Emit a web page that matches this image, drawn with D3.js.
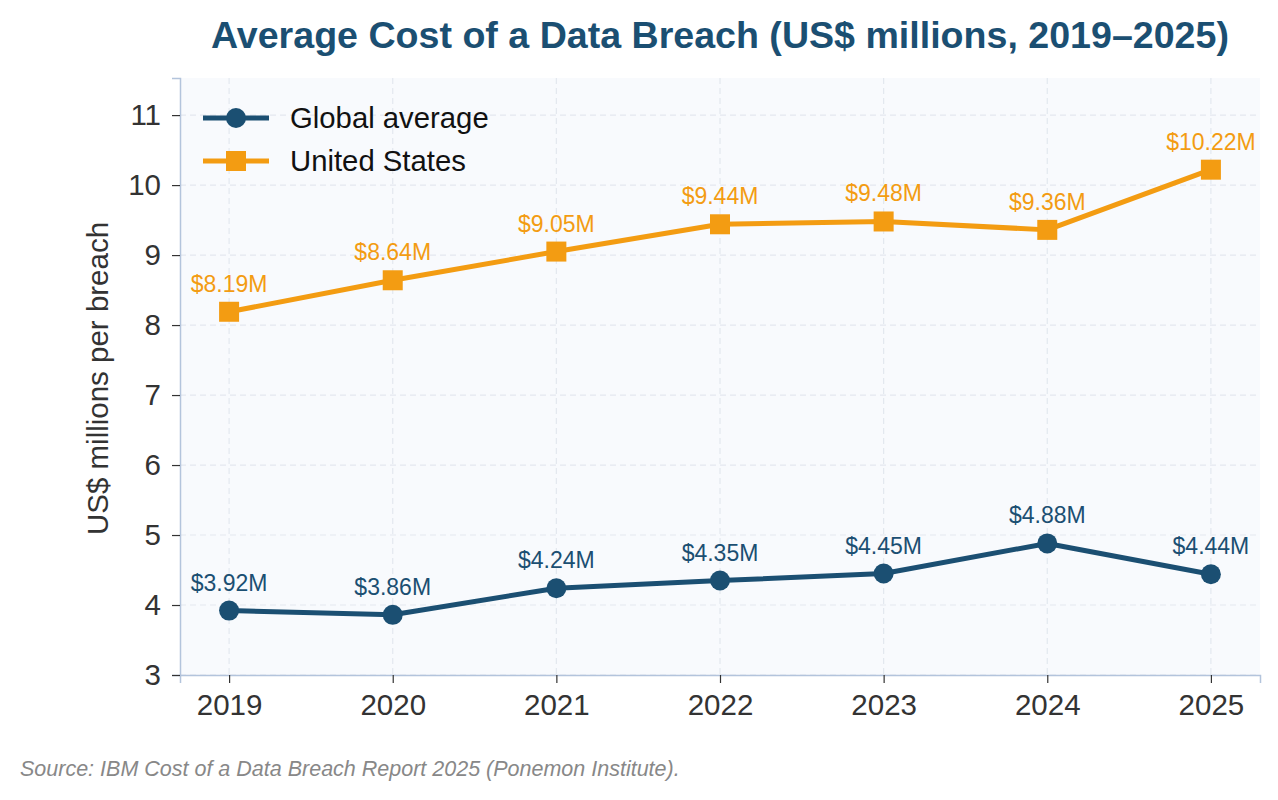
<!DOCTYPE html>
<html>
<head>
<meta charset="utf-8">
<script src="https://cdn.jsdelivr.net/npm/d3@7"></script>
<style>
  body { margin: 0; background: #fff; font-family: "Liberation Sans", Arial, sans-serif; }
</style>
</head>
<body>
<div id="chart"></div>
<script>
  const years = [2019, 2020, 2021, 2022, 2023, 2024, 2025];
  const globalAvg = [3.92, 3.86, 4.24, 4.35, 4.45, 4.88, 4.44];
  const usAvg = [8.19, 8.64, 9.05, 9.44, 9.48, 9.36, 10.22];
  const yTicks = [3, 4, 5, 6, 7, 8, 9, 10, 11];

  const width = 1278;
  const height = 800;
  const margin = { top: 78, right: 18, bottom: 125, left: 180 };

  const blue = '#1b4f72';
  const orange = '#f39c12';

  const svg = d3.select('#chart')
                .append('svg')
                .attr('width', width)
                .attr('height', height);

  const xScale = d3.scaleLinear()
                   .domain([2018.7, 2025.3])
                   .range([margin.left, width - margin.right]);

  const yScale = d3.scaleLinear()
                   .domain([3, 11.53])
                   .range([height - margin.bottom, margin.top]);

  // plot background
  svg.append('rect')
     .attr('x', margin.left)
     .attr('y', margin.top)
     .attr('width', width - margin.left - margin.right)
     .attr('height', height - margin.top - margin.bottom)
     .attr('fill', '#f8fafd');

  // grid
  svg.append('g')
     .selectAll('line')
     .data(yTicks)
     .enter()
     .append('line')
     .attr('x1', margin.left)
     .attr('x2', width - margin.right)
     .attr('y1', d => yScale(d))
     .attr('y2', d => yScale(d))
     .attr('stroke', '#e3e8ef')
     .attr('stroke-width', 1.2)
     .attr('stroke-dasharray', '6,4');

  svg.append('g')
     .selectAll('line')
     .data(years)
     .enter()
     .append('line')
     .attr('x1', d => xScale(d))
     .attr('x2', d => xScale(d))
     .attr('y1', margin.top)
     .attr('y2', height - margin.bottom)
     .attr('stroke', '#e3e8ef')
     .attr('stroke-width', 1.2)
     .attr('stroke-dasharray', '6,4');

  // axes
  const xAxis = d3.axisBottom(xScale)
                  .tickValues(years)
                  .tickFormat(d3.format('d'))
                  .tickSize(8)
                  .tickPadding(11);

  const yAxis = d3.axisLeft(yScale)
                  .tickValues(yTicks)
                  .tickFormat(d3.format('d'))
                  .tickSize(8)
                  .tickPadding(11);

  const gx = svg.append('g')
                .attr('transform', 'translate(0,' + (height - margin.bottom) + ')')
                .call(xAxis);

  const gy = svg.append('g')
                .attr('transform', 'translate(' + margin.left + ',0)')
                .call(yAxis);

  [gx, gy].forEach(g => {
    g.select('.domain').attr('stroke', '#b3c4dc').attr('stroke-width', 1.5);
    g.selectAll('.tick line').attr('stroke', '#333').attr('stroke-width', 1.2);
    g.selectAll('.tick text')
     .attr('fill', '#333')
     .style('font-size', '29.5px')
     .style('font-family', '"Liberation Sans", Arial, sans-serif');
  });

  // lines
  const line = d3.line()
                 .x((d, i) => xScale(years[i]))
                 .y(d => yScale(d));

  svg.append('path')
     .datum(usAvg)
     .attr('d', line)
     .attr('fill', 'none')
     .attr('stroke', orange)
     .attr('stroke-width', 5)
     .attr('stroke-linejoin', 'round');

  svg.append('path')
     .datum(globalAvg)
     .attr('d', line)
     .attr('fill', 'none')
     .attr('stroke', blue)
     .attr('stroke-width', 5)
     .attr('stroke-linejoin', 'round');

  const sq = 20;
  svg.selectAll('.us-pt')
     .data(usAvg)
     .enter()
     .append('rect')
     .attr('x', (d, i) => xScale(years[i]) - sq / 2)
     .attr('y', d => yScale(d) - sq / 2)
     .attr('width', sq)
     .attr('height', sq)
     .attr('fill', orange);

  svg.selectAll('.gl-pt')
     .data(globalAvg)
     .enter()
     .append('circle')
     .attr('cx', (d, i) => xScale(years[i]))
     .attr('cy', d => yScale(d))
     .attr('r', 10)
     .attr('fill', blue);

  // value labels
  const fmt = d => '$' + d.toFixed(2) + 'M';

  svg.selectAll('.us-lbl')
     .data(usAvg)
     .enter()
     .append('text')
     .attr('x', (d, i) => xScale(years[i]))
     .attr('y', d => yScale(d) - 20)
     .attr('text-anchor', 'middle')
     .attr('fill', orange)
     .style('font-size', '23px')
     .text(fmt);

  svg.selectAll('.gl-lbl')
     .data(globalAvg)
     .enter()
     .append('text')
     .attr('x', (d, i) => xScale(years[i]))
     .attr('y', d => yScale(d) - 20)
     .attr('text-anchor', 'middle')
     .attr('fill', blue)
     .style('font-size', '23px')
     .text(fmt);

  // legend
  const legendItems = [
    { label: 'Global average', color: blue, shape: 'circle' },
    { label: 'United States', color: orange, shape: 'square' }
  ];

  const legend = svg.append('g').attr('transform', 'translate(203,118)');

  legendItems.forEach((item, i) => {
    const g = legend.append('g').attr('transform', 'translate(0,' + (i * 43) + ')');
    g.append('line')
     .attr('x1', 0).attr('x2', 66)
     .attr('y1', 0).attr('y2', 0)
     .attr('stroke', item.color)
     .attr('stroke-width', 5);
    if (item.shape === 'circle') {
      g.append('circle').attr('cx', 33).attr('cy', 0).attr('r', 10).attr('fill', item.color);
    } else {
      g.append('rect').attr('x', 23).attr('y', -10).attr('width', 20).attr('height', 20).attr('fill', item.color);
    }
    g.append('text')
     .attr('x', 87)
     .attr('y', 0)
     .attr('dy', '0.35em')
     .attr('fill', '#111')
     .style('font-size', '29.3px')
     .text(item.label);
  });

  // y label
  svg.append('text')
     .attr('transform', 'translate(108,' + ((margin.top + height - margin.bottom) / 2 + 2) + ') rotate(-90)')
     .attr('text-anchor', 'middle')
     .attr('fill', '#333')
     .style('font-size', '29.5px')
     .text('US$ millions per breach');

  // title
  svg.append('text')
     .attr('x', (margin.left + width - margin.right) / 2)
     .attr('y', 48)
     .attr('text-anchor', 'middle')
     .attr('fill', '#1b4f72')
     .style('font-size', '37.6px')
     .style('font-weight', 'bold')
     .text('Average Cost of a Data Breach (US$ millions, 2019–2025)');

  // source
  svg.append('text')
     .attr('x', 20)
     .attr('y', 776)
     .attr('fill', '#888')
     .style('font-size', '21.5px')
     .style('font-style', 'italic')
     .text('Source: IBM Cost of a Data Breach Report 2025 (Ponemon Institute).');
</script>
</body>
</html>
